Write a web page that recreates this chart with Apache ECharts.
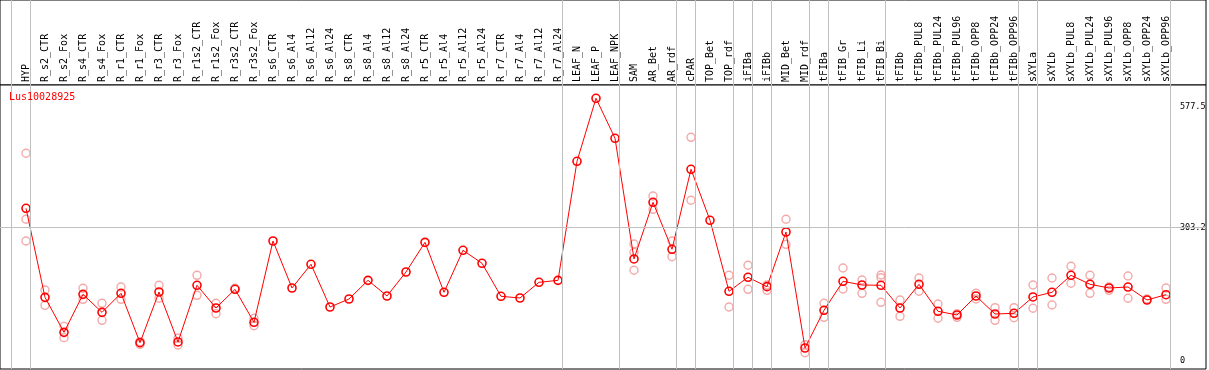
<!DOCTYPE html>
<html>
<head>
<meta charset="utf-8">
<script src="https://cdn.jsdelivr.net/npm/echarts@6/dist/echarts.min.js"></script>
<style>
html,body{margin:0;padding:0;background:#fff;}
#chart{width:1209px;height:370px;}
</style>
</head>
<body>
<div id="chart"></div>
<script>
const titleText = 'Lus10028925';
const categories = ['HYP','R_s2_CTR','R_s2_Fox','R_s4_CTR','R_s4_Fox','R_r1_CTR','R_r1_Fox','R_r3_CTR','R_r3_Fox','R_r1s2_CTR','R_r1s2_Fox','R_r3s2_CTR','R_r3s2_Fox','R_s6_CTR','R_s6_Al4','R_s6_Al12','R_s6_Al24','R_s8_CTR','R_s8_Al4','R_s8_Al12','R_s8_Al24','R_r5_CTR','R_r5_Al4','R_r5_Al12','R_r5_Al24','R_r7_CTR','R_r7_Al4','R_r7_Al12','R_r7_Al24','LEAF_N','LEAF_P','LEAF_NPK','SAM','AR_Bet','AR_rdf','cPAR','TOP_Bet','TOP_rdf','iFIBa','iFIBb','MID_Bet','MID_rdf','tFIBa','tFIB_Gr','tFIB_Li','tFIB_Bi','tFIBb','tFIBb_PUL8','tFIBb_PUL24','tFIBb_PUL96','tFIBb_OPP8','tFIBb_OPP24','tFIBb_OPP96','sXYLa','sXYLb','sXYLb_PUL8','sXYLb_PUL24','sXYLb_PUL96','sXYLb_OPP8','sXYLb_OPP24','sXYLb_OPP96'];
const meanValues = [346.8,144.6,65.1,151.4,110.5,153.7,41.6,156.7,43.2,171.9,120.4,162.8,87.9,272.5,165.8,219.6,122.6,140.8,183.2,147.6,202.1,269.5,156.0,251.4,221.9,146.9,143.1,178.7,183.2,453.5,596.6,505.8,231.7,360.4,253.7,435.4,319.5,158.3,190.1,168.8,293.0,29.5,115.1,181.0,172.6,171.9,120.4,174.2,112.9,104.5,147.6,106.7,108.3,145.4,156.0,194.6,174.2,165.8,168.0,138.5,150.6];
const repA = [471.7,161.3,78.7,165.1,131,168,43.9,171.9,51.5,194.6,131,165.1,97,null,null,null,null,null,null,null,null,null,null,null,null,null,null,null,null,null,null,null,265.7,374.7,272.5,508,null,194.6,217.4,172.6,321.8,37.0,131,211.2,184,195.3,138.5,188.5,129.5,107.4,153.7,121.1,121.1,172.6,188.5,215.1,194.6,168,193,140.8,165.8];
const repB = [321.8,126.4,53.0,140.1,92.4,140.1,37.9,142.4,36.3,149.2,107.4,null,80.2,null,null,null,null,null,null,null,null,null,null,null,null,null,null,null,null,null,null,null,247,344.5,236.9,365,null,122.6,162.8,160.5,265,18.9,99.2,163.5,153.7,189.2,101.5,158.3,97,99.2,140.8,92.4,98.3,119.7,127.2,176.5,153.7,160.5,142.4,null,140.1];
const repC = {0:272.5, 32:206, 45:133.3};
const yTickValues = [0, 303.2, 577.5];
const groupEnds = [-1,0,28,31,34,35,37,38,39,41,42,45,52,53,60];

const groupLineOffset = 0.24;
const xMin = -26/19, xMax = (1206-26)/19;
const yMin = -18.17, yMax = 626.8;
const mono = 'DejaVu Sans Mono';

const meanData = meanValues.map((v,i)=>[i,v]);
const repData = [];
[repA, repB].forEach(arr => arr.forEach((v,i)=>{ if (v !== null) repData.push([i,v]); }));
Object.keys(repC).forEach(k => repData.push([Number(k), repC[k]]));
const vLines = groupEnds.map(k => ({xAxis: k + groupLineOffset}));
const grayLine = {color:'#c0c0c0', width:1, type:'solid'};

const chart = echarts.init(document.getElementById('chart'), null, {renderer:'canvas'});
chart.setOption({
  animation:false,
  backgroundColor:'#fff',
  title:{text:titleText, left:9, top:92, padding:0,
    textStyle:{color:'#ff0000', fontSize:10, fontFamily:mono, fontWeight:'normal'}},
  grid:[
    {left:0, right:3, top:0, height:85, show:true, borderColor:'#000', borderWidth:1, backgroundColor:'#fff'},
    {left:0, right:3, top:85, bottom:1, show:true, borderColor:'#000', borderWidth:1, backgroundColor:'#fff'}
  ],
  xAxis:[
    {type:'value', gridIndex:0, min:xMin, max:xMax, axisLine:{show:false}, axisTick:{show:false}, splitLine:{show:false},
     axisLabel:{customValues:categories.map((c,i)=>i), formatter:v=>categories[Math.round(v)], inside:true, rotate:90, margin:3,
       fontFamily:mono, fontSize:10, color:'#000'}},
    {type:'value', gridIndex:1, min:xMin, max:xMax, axisLine:{show:false}, axisTick:{show:false}, splitLine:{show:false}, axisLabel:{show:false}}
  ],
  yAxis:[
    {type:'value', gridIndex:0, min:0, max:1, show:false},
    {type:'value', gridIndex:1, position:'right', min:yMin, max:yMax, axisLine:{show:false}, axisTick:{show:false}, splitLine:{show:false},
     axisLabel:{customValues:yTickValues, formatter:v=>String(v), inside:true, align:'left', margin:26, fontFamily:mono, fontSize:8.5, color:'#000'}}
  ],
  series:[
    {type:'line', xAxisIndex:0, yAxisIndex:0, data:[], silent:true,
     markLine:{silent:true, symbol:'none', label:{show:false}, lineStyle:grayLine, data:vLines}},
    {type:'line', xAxisIndex:1, yAxisIndex:1, data:[], silent:true, z:1,
     markLine:{silent:true, symbol:'none', label:{show:false}, lineStyle:grayLine,
       data:vLines.concat([{yAxis:yTickValues[1]}])}},
    {type:'scatter', xAxisIndex:1, yAxisIndex:1, data:repData, symbol:'circle', symbolSize:8, z:2,
     itemStyle:{color:'rgba(0,0,0,0)', borderColor:'#f09494', borderWidth:1.4}},
    {type:'line', xAxisIndex:1, yAxisIndex:1, data:meanData, symbol:'circle', symbolSize:8, z:3,
     lineStyle:{color:'#ff0000', width:1}, itemStyle:{color:'rgba(0,0,0,0)', borderColor:'#ff0000', borderWidth:1.6}}
  ]
});
</script>
</body>
</html>
